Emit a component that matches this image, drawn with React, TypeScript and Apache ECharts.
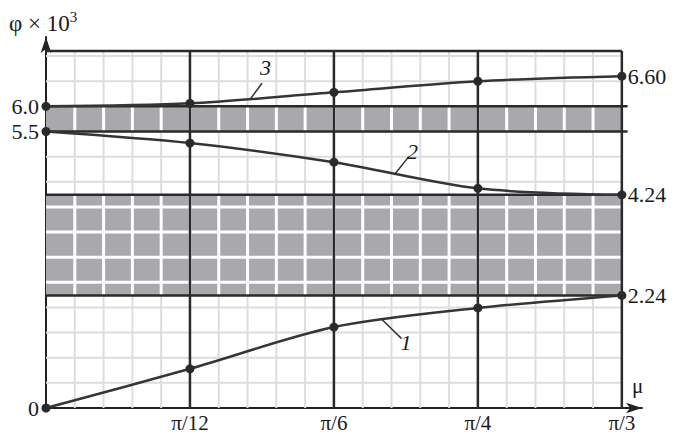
import React, { useEffect, useRef } from "react";
import * as echarts from "echarts";

// μ in units of π/12
const MU = [0, 1, 2, 3, 4];
const X_LABELS = ["", "π/12", "π/6", "π/4", "π/3"];
const CURVE_1 = [0, 0.78, 1.61, 1.99, 2.24];
const CURVE_2 = [5.5, 5.27, 4.89, 4.37, 4.24];
const CURVE_3 = [6.0, 6.06, 6.28, 6.5, 6.6];
const CURVE_NAMES = ["1", "2", "3"];
const LEFT_TICK_LABELS: Record<string, string> = { "0": "0", "5.5": "5.5", "6": "6.0" };
const BANDS = [
  [2.24, 4.24],
  [5.5, 6.0],
];
const LEVELS = [2.24, 4.24, 5.5, 6.0];

// layout constants (not data)
const X_END = 4;
const X_AXIS_MAX = 4.14;
const Y_TOP = 7.1;
const Y_AXIS_MAX = 7.38;
const X_MINOR = 0.2;
const Y_MINOR = 0.5;
const LEADERS = [
  { from: [2.33, 1.77], to: [2.47, 1.38] },
  { from: [2.42, 4.64], to: [2.52, 5.0] },
  { from: [1.42, 6.15], to: [1.5, 6.46] },
];

const FONT = "Liberation Serif, DejaVu Serif, serif";
const DARK = "#2a2a2a";
const TEXT = "#1a1a1a";

export default function App() {
  const ref = useRef<HTMLDivElement>(null);
  useEffect(() => {
    if (!ref.current) return;
    const chart = echarts.init(ref.current, undefined, { renderer: "svg" });

    const renderItem = (_params: any, api: any) => {
      const children: any[] = [];
      const line = (x1: number, y1: number, x2: number, y2: number, stroke: string, w: number) => {
        const a = api.coord([x1, y1]);
        const b = api.coord([x2, y2]);
        children.push({
          type: "line",
          shape: { x1: a[0], y1: a[1], x2: b[0], y2: b[1] },
          style: { stroke, lineWidth: w },
        });
      };
      const nx = Math.round(X_END / X_MINOR);
      for (let k = 1; k < nx; k++) line(k * X_MINOR, 0, k * X_MINOR, Y_TOP, "#dddddd", 2);
      for (let k = 1; k * Y_MINOR < Y_TOP; k++) line(0, k * Y_MINOR, X_END, k * Y_MINOR, "#dddddd", 2);
      BANDS.forEach(([lo, hi]) => {
        const a = api.coord([0, hi]);
        const b = api.coord([X_END, lo]);
        children.push({
          type: "rect",
          shape: { x: a[0], y: a[1], width: b[0] - a[0], height: b[1] - a[1] },
          style: { fill: "#a9a9ad" },
        });
        for (let k = 1; k < nx; k++) line(k * X_MINOR, lo, k * X_MINOR, hi, "#ffffff", 3);
        for (let k = 1; k * Y_MINOR < Y_TOP; k++) {
          const y = k * Y_MINOR;
          if (y > lo + 0.05 && y < hi - 0.05) line(0, y, X_END, y, "#ffffff", 3);
        }
      });
      line(0, Y_TOP, X_END, Y_TOP, DARK, 2.5);
      line(X_END, 0, X_END, Y_TOP, DARK, 2.5);
      for (let m = 1; m < X_END; m++) line(m, 0, m, Y_TOP, DARK, 2.5);
      LEVELS.forEach((v) => line(0, v, v >= 5 ? X_END + 0.04 : X_END, v, DARK, 2.5));
      return { type: "group", children };
    };

    const curves = [CURVE_1, CURVE_2, CURVE_3];
    const lineSeries = curves.map((vals, i) => ({
      type: "line",
      name: CURVE_NAMES[i],
      data: MU.map((m, j) => [m, vals[j]]),
      smooth: 0.3,
      symbol: "circle",
      symbolSize: 9,
      showAllSymbol: true,
      z: 3,
      itemStyle: { color: DARK },
      lineStyle: { color: "#353535", width: 2.5 },
      endLabel: {
        show: true,
        formatter: (p: any) => Number(p.value[1]).toFixed(2),
        distance: 6,
        fontSize: 22,
        fontFamily: FONT,
        color: TEXT,
      },
      markLine: {
        silent: true,
        symbol: ["none", "none"],
        lineStyle: { color: "#333", width: 1.5, type: "solid" },
        label: {
          show: true,
          position: "end",
          distance: 6,
          formatter: CURVE_NAMES[i],
          fontSize: 22,
          fontStyle: "italic",
          fontFamily: FONT,
          color: TEXT,
        },
        data: [[{ coord: LEADERS[i].from }, { coord: LEADERS[i].to }]],
      },
    }));

    chart.setOption({
      animation: false,
      backgroundColor: "#ffffff",
      grid: { left: 46, right: 34, top: 37, bottom: 27 },
      xAxis: {
        type: "value",
        min: 0,
        max: X_AXIS_MAX,
        interval: 1,
        axisLine: {
          show: true,
          symbol: ["none", "arrow"],
          symbolSize: [8, 16],
          lineStyle: { color: "#222", width: 2 },
        },
        axisTick: { show: false },
        splitLine: { show: false },
        axisLabel: {
          margin: 4,
          fontSize: 21,
          fontFamily: FONT,
          color: TEXT,
          formatter: (v: number) => (Number.isInteger(v) ? X_LABELS[v] ?? "" : ""),
        },
      },
      yAxis: {
        type: "value",
        min: 0,
        max: Y_AXIS_MAX,
        interval: 0.5,
        axisLine: {
          show: true,
          symbol: ["none", "arrow"],
          symbolSize: [8, 16],
          lineStyle: { color: "#222", width: 2 },
        },
        axisTick: { show: false },
        splitLine: { show: false },
        axisLabel: {
          margin: 7,
          fontSize: 22,
          fontFamily: FONT,
          color: TEXT,
          formatter: (v: number) => LEFT_TICK_LABELS[String(v)] ?? "",
        },
      },
      graphic: [
        {
          type: "text",
          left: 9,
          top: 9,
          style: {
            text: "{a|φ × 10}{s|3}",
            rich: {
              a: { fontSize: 23, fontFamily: FONT, fill: TEXT, lineHeight: 26, verticalAlign: "bottom" },
              s: { fontSize: 15, fontFamily: FONT, fill: TEXT, lineHeight: 26, verticalAlign: "top" },
            },
          },
        },
        {
          type: "text",
          left: 632,
          top: 375,
          style: { text: "μ", fontSize: 21, fontFamily: FONT, fill: TEXT },
        },
      ],
      series: [
        {
          type: "custom",
          coordinateSystem: "cartesian2d",
          data: [[0, 0]],
          silent: true,
          clip: false,
          z: 1,
          renderItem,
        },
        ...lineSeries,
      ],
    });
    return () => chart.dispose();
  }, []);
  return (
    <div
      ref={ref}
      style={{ position: "fixed", left: 0, top: 0, width: 676, height: 435, background: "#fff" }}
    />
  );
}
